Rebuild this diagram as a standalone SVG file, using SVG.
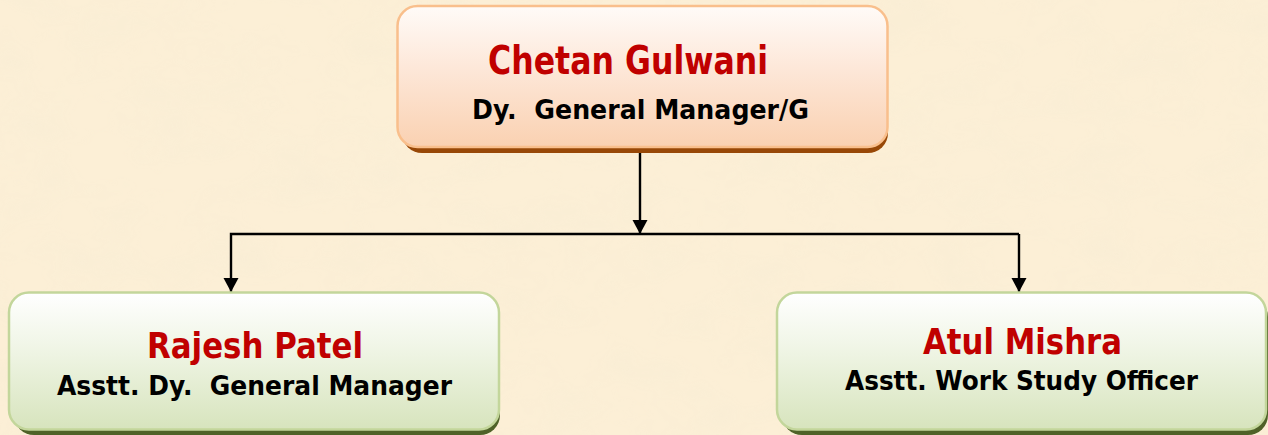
<svg xmlns="http://www.w3.org/2000/svg" width="1268" height="435" viewBox="0 0 1268 435">
<style>
.name{font-family:"DejaVu Sans","Liberation Sans",sans-serif;font-weight:bold;fill:#c00000}
.role{font-family:"DejaVu Sans","Liberation Sans",sans-serif;font-weight:bold;fill:#000000;white-space:pre}
.conn{fill:none;stroke:#000;stroke-width:2.4}
</style>
<defs>
<linearGradient id="gTop" x1="0" y1="0" x2="0" y2="1">
<stop offset="0" stop-color="#fffbf8"/>
<stop offset="0.45" stop-color="#fde7d8"/>
<stop offset="1" stop-color="#fad1b1"/>
</linearGradient>
<linearGradient id="gGreen" x1="0" y1="0" x2="0" y2="1">
<stop offset="0" stop-color="#ffffff"/>
<stop offset="0.45" stop-color="#eef4e3"/>
<stop offset="1" stop-color="#d7e4bd"/>
</linearGradient>
<filter id="tex" x="0" y="0" width="100%" height="100%">
<feTurbulence type="fractalNoise" baseFrequency="0.015 0.025" numOctaves="3" seed="7" result="n"/>
<feColorMatrix in="n" type="matrix" values="0 0 0 0 0.93  0 0 0 0 0.84  0 0 0 0 0.66  0 0 0 1.6 -0.6"/>
</filter>
<marker id="arr" viewBox="0 0 14 18" refX="14" refY="9" markerWidth="14" markerHeight="18" markerUnits="userSpaceOnUse" orient="auto">
<path d="M0,1.5 L14,9 L0,16.5 Z" fill="#000"/>
</marker>
</defs>
<rect width="1268" height="435" fill="#fcefd6"/>
<rect width="1268" height="435" filter="url(#tex)" opacity="0.6"/>
<g id="connectors">
<path class="conn" d="M640,152 V234" marker-end="url(#arr)"/>
<path class="conn" d="M1019,234 H231 V292" marker-end="url(#arr)"/>
<path class="conn" d="M1019,234 V292" marker-end="url(#arr)"/>
</g>
<g id="node-chetan">
<rect x="402" y="11" width="486" height="142" rx="20" fill="#984807"/>
<rect x="397.5" y="6" width="490" height="141" rx="20" fill="url(#gTop)" stroke="#f9bf8c" stroke-width="2.5"/>
<text class="name" x="488" y="74" font-size="39" textLength="280" lengthAdjust="spacingAndGlyphs">Chetan Gulwani</text>
<text class="role" x="472" y="119" font-size="27" textLength="337" lengthAdjust="spacingAndGlyphs" xml:space="preserve">Dy.  General Manager/G</text>
</g>
<g id="node-rajesh">
<rect x="14" y="297" width="486" height="138" rx="20" fill="#4f6228"/>
<rect x="9" y="292.5" width="490" height="137" rx="20" fill="url(#gGreen)" stroke="#c3d69b" stroke-width="2.5"/>
<text class="name" x="147" y="358" font-size="36" textLength="216" lengthAdjust="spacingAndGlyphs">Rajesh Patel</text>
<text class="role" x="57" y="395" font-size="27" textLength="395" lengthAdjust="spacingAndGlyphs" xml:space="preserve">Asstt. Dy.  General Manager</text>
</g>
<g id="node-atul">
<rect x="782" y="297" width="486" height="138" rx="20" fill="#4f6228"/>
<rect x="777" y="292.5" width="489" height="137" rx="20" fill="url(#gGreen)" stroke="#c3d69b" stroke-width="2.5"/>
<text class="name" x="923" y="354" font-size="36" textLength="199" lengthAdjust="spacingAndGlyphs">Atul Mishra</text>
<text class="role" x="845" y="390" font-size="27" textLength="353" lengthAdjust="spacingAndGlyphs">Asstt. Work Study Officer</text>
</g>
</svg>
